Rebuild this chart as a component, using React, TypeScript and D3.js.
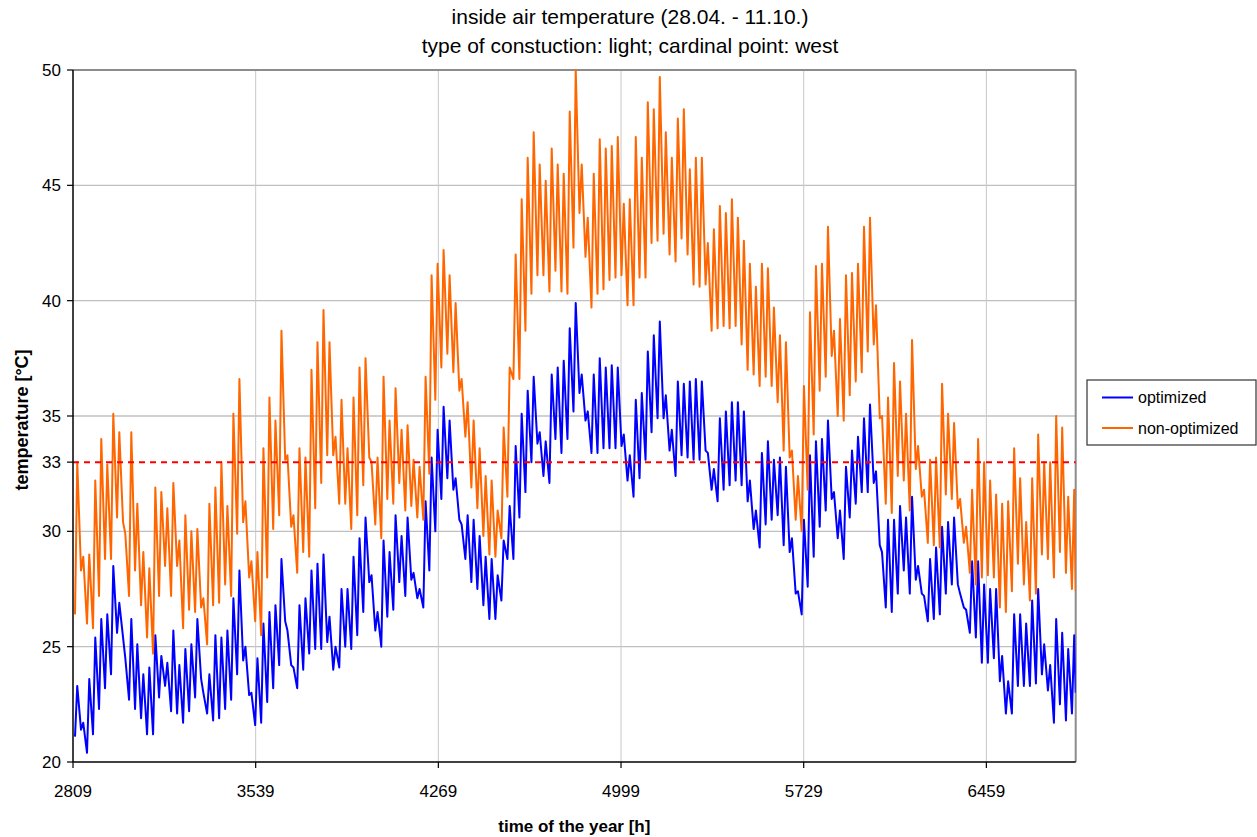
import React from 'react';
import * as d3 from 'd3';

// hours of the year shown on the x axis
const hourStart = 2809;
const hourEnd = 6816;
const xTicks = [2809, 3539, 4269, 4999, 5729, 6459];
const yTicks = [20, 25, 30, 33, 35, 40, 45, 50];
const limitTemp = 33;

// daily cycle: morning low, evening high (west facade)
const firstPeakHour = 2826;
const riseHours = 9;

const seriesNames = ['optimized', 'non-optimized'];

// daily lows / highs, °C (one value per day)
const optimizedLows = [
  21.1, 21.4, 20.4, 21.2, 22.3, 23.2, 23.8, 25.6, 25.4, 22.7,
  22.3, 21.9, 21.2, 21.2, 22.8, 23.3, 22.2, 22.1, 21.7, 22.2,
  22.8, 23.6, 22.1, 21.8, 21.9, 22.3, 22.7, 23.8, 24.4, 22.9,
  21.6, 21.7, 22.6, 23.2, 24.2, 26.1, 24.2, 23.2, 24.0, 24.7,
  24.9, 24.9, 25.2, 24.0, 24.1, 25.0, 24.9, 25.5, 26.5, 27.8,
  25.7, 25.0, 26.3, 26.6, 27.8, 27.2, 27.9, 27.1, 26.7, 28.3,
  30.0, 31.4, 32.3, 31.8, 30.5, 28.8, 27.8, 27.5, 26.8, 26.2,
  26.2, 27.0, 28.8, 28.8, 30.6, 31.7, 33.0, 33.8, 32.4, 32.1,
  34.0, 33.4, 34.0, 35.2, 36.0, 34.8, 33.4, 33.4, 33.6, 33.6,
  33.6, 33.7, 32.2, 31.5, 32.3, 33.1, 34.3, 34.9, 34.9, 33.5,
  32.4, 33.3, 33.2, 33.1, 33.1, 33.5, 31.8, 31.3, 31.8, 32.0,
  32.2, 32.0, 31.3, 30.1, 29.3, 30.3, 30.5, 30.7, 29.4, 29.1,
  27.3, 26.4, 27.6, 28.9, 30.2, 30.9, 31.4, 29.7, 28.8, 30.6,
  31.2, 31.7, 31.7, 32.1, 29.4, 26.7, 26.5, 27.3, 28.3, 27.3,
  27.9, 27.3, 26.1, 26.2, 26.4, 27.3, 27.7, 27.7, 26.7, 25.6,
  25.4, 24.3, 24.3, 24.5, 23.5, 22.1, 22.1, 23.3, 23.3, 23.3,
  23.4, 23.8, 23.1, 21.7, 22.5, 21.8, 22.1, 23.0,
];
const optimizedHighs = [
  23.3, 21.7, 23.6, 25.4, 26.2, 26.4, 28.5, 26.9, 24.5, 26.2,
  25.1, 23.8, 24.1, 25.5, 24.6, 24.3, 25.7, 24.2, 24.9, 25.1,
  26.2, 23.0, 23.8, 25.5, 25.4, 25.7, 27.1, 28.3, 25.0, 23.0,
  24.5, 26.0, 26.5, 26.8, 28.8, 25.7, 24.1, 26.8, 27.1, 28.3,
  28.6, 29.0, 26.3, 25.0, 27.5, 27.5, 28.9, 29.7, 30.6, 28.1,
  26.5, 29.6, 29.1, 30.7, 29.8, 30.6, 28.2, 27.5, 31.3, 33.2,
  34.4, 35.4, 34.8, 32.3, 30.3, 30.7, 30.5, 29.8, 28.9, 28.8,
  28.1, 29.6, 31.1, 33.7, 35.1, 36.1, 36.7, 34.3, 33.9, 36.8,
  37.1, 37.4, 38.8, 39.9, 36.8, 35.2, 36.8, 37.5, 37.1, 37.2,
  37.1, 34.2, 33.3, 35.7, 36.0, 37.8, 38.5, 39.1, 35.9, 34.4,
  36.5, 36.4, 36.5, 36.6, 36.5, 33.4, 32.7, 34.9, 35.2, 35.6,
  35.6, 35.2, 32.2, 30.9, 33.4, 33.9, 33.1, 33.2, 32.8, 29.7,
  27.4, 30.5, 33.3, 33.9, 34.0, 34.8, 31.7, 30.9, 32.8, 33.5,
  34.1, 34.9, 35.5, 32.6, 29.1, 30.5, 30.5, 31.1, 30.6, 31.5,
  28.5, 27.2, 28.8, 29.3, 30.2, 30.4, 30.6, 27.3, 26.6, 28.7,
  28.7, 27.7, 27.5, 27.5, 24.6, 23.5, 26.4, 26.4, 26.0, 27.0,
  27.5, 25.1, 24.2, 26.2, 25.6, 24.9, 25.5,
];
const nonOptimizedLows = [
  26.4, 28.3, 26.0, 25.8, 27.2, 28.8, 28.8, 30.6, 30.4, 27.2,
  28.3, 26.8, 25.4, 24.7, 27.2, 28.5, 27.2, 28.5, 25.8, 26.6,
  26.5, 26.7, 25.1, 26.8, 26.9, 27.7, 27.2, 29.9, 30.4, 28.0,
  26.1, 25.5, 28.0, 30.1, 30.7, 33.1, 30.2, 28.2, 29.1, 28.9,
  31.0, 32.1, 33.3, 33.3, 31.2, 31.2, 30.1, 30.7, 32.0, 33.2,
  30.3, 29.7, 31.4, 31.2, 32.1, 30.9, 31.1, 30.6, 30.5, 32.5,
  35.7, 37.1, 37.7, 36.9, 36.1, 34.1, 31.9, 31.0, 29.8, 29.0,
  28.9, 29.7, 31.5, 36.6, 36.6, 38.7, 40.3, 41.1, 41.1, 40.4,
  41.3, 40.4, 40.3, 42.3, 43.8, 41.9, 39.7, 40.3, 40.5, 40.9,
  41.0, 41.1, 39.8, 39.8, 41.0, 41.0, 42.5, 42.6, 42.9, 42.0,
  41.7, 42.7, 42.0, 40.7, 40.6, 40.7, 38.7, 38.8, 38.9, 38.8,
  38.9, 38.1, 37.0, 36.8, 36.3, 36.7, 36.3, 35.6, 33.5, 33.2,
  30.5, 30.0, 31.8, 34.2, 36.1, 36.7, 37.6, 35.0, 34.8, 35.9,
  36.5, 36.9, 37.8, 38.1, 34.9, 31.2, 30.8, 32.4, 32.2, 30.9,
  32.7, 31.5, 29.5, 29.4, 29.3, 31.6, 31.4, 31.0, 29.5, 28.2,
  27.7, 28.0, 28.1, 28.0, 26.7, 26.5, 27.4, 28.6, 27.7, 27.0,
  27.3, 29.0, 28.8, 28.0, 29.1, 28.2, 27.5, 27.4,
];
const nonOptimizedHighs = [
  33.0, 28.9, 29.0, 32.2, 34.0, 32.9, 35.1, 34.3, 29.9, 34.3,
  31.2, 29.1, 28.4, 31.9, 31.7, 31.0, 32.1, 29.6, 30.7, 30.0,
  30.1, 27.1, 31.2, 31.9, 33.0, 31.1, 35.1, 36.6, 31.3, 28.7,
  29.1, 33.6, 35.8, 34.8, 38.7, 33.3, 30.7, 33.6, 33.2, 37.0,
  38.2, 39.6, 38.2, 34.1, 35.7, 33.6, 35.8, 37.1, 37.5, 33.0,
  33.2, 36.7, 34.8, 36.2, 34.4, 34.6, 33.1, 32.8, 36.7, 41.1,
  41.6, 42.2, 41.1, 39.9, 36.6, 35.6, 34.8, 33.6, 32.4, 32.2,
  30.9, 34.5, 37.1, 42.0, 44.4, 46.2, 47.3, 45.9, 45.2, 46.6,
  45.9, 45.5, 48.2, 50.0, 45.9, 43.6, 45.5, 47.0, 46.6, 46.7,
  47.1, 44.2, 44.4, 47.1, 46.2, 48.6, 48.3, 49.7, 47.3, 46.2,
  47.9, 48.3, 45.7, 46.2, 46.2, 42.5, 43.1, 44.1, 43.8, 44.4,
  43.6, 42.6, 41.6, 40.6, 41.6, 41.4, 39.7, 38.5, 38.2, 33.5,
  32.4, 36.3, 39.5, 41.5, 41.6, 43.2, 38.7, 39.2, 41.1, 41.2,
  41.6, 43.2, 43.6, 39.8, 35.0, 35.8, 37.3, 36.5, 35.1, 38.3,
  33.7, 31.8, 33.1, 33.2, 36.4, 35.1, 34.7, 31.4, 30.2, 31.8,
  34.0, 33.0, 32.2, 31.6, 31.2, 31.3, 33.6, 32.3, 30.4, 32.3,
  34.2, 33.0, 33.0, 35.0, 34.5, 31.5, 31.8,
];

const colors = ['#0000ff', '#ff6600'];
const font = '"Liberation Sans", Arial, sans-serif';

function toPoints(lows: number[], highs: number[]): [number, number][] {
  const pts: [number, number][] = [];
  lows.forEach((low, k) => {
    const peakHour = firstPeakHour + 24 * k;
    const lowHour = Math.min(hourEnd, Math.max(hourStart, peakHour - riseHours));
    pts.push([lowHour, low]);
    if (k < highs.length) pts.push([peakHour, highs[k]]);
  });
  return pts;
}

export default function App() {
  const width = 1257;
  const height = 837;
  const left = 73;
  const right = 1075.7;
  const top = 70;
  const bottom = 762;

  const x = d3.scaleLinear().domain([hourStart, hourEnd]).range([left, right]);
  const y = d3.scaleLinear().domain([20, 50]).range([bottom, top]);

  const line = d3
    .line<[number, number]>()
    .x(d => x(d[0]))
    .y(d => y(d[1]));

  const series = [
    toPoints(optimizedLows, optimizedHighs),
    toPoints(nonOptimizedLows, nonOptimizedHighs),
  ];

  return (
    <div style={{ position: 'absolute', left: 0, top: 0 }}>
      <svg width={width} height={height} style={{ display: 'block', background: '#fff' }} fontFamily={font}>
        <defs>
          <clipPath id="plot-clip">
            <rect x={left} y={top - 1} width={right - left} height={bottom - top + 2} />
          </clipPath>
        </defs>

        {/* grid */}
        {yTicks.filter(t => t !== limitTemp && t !== 20 && t !== 50).map(t => (
          <line key={'gy' + t} x1={left} x2={right} y1={y(t)} y2={y(t)} stroke="#c0c0c0" strokeWidth={1.3} />
        ))}
        {xTicks.filter(t => t !== hourStart).map(t => (
          <line key={'gx' + t} x1={x(t)} x2={x(t)} y1={top} y2={bottom} stroke="#c8c8c8" strokeWidth={1} />
        ))}

        {/* plot frame: grey top/right, black axes */}
        <line x1={left} x2={right} y1={top} y2={top} stroke="#8c8c8c" strokeWidth={2} />
        <line x1={right} x2={right} y1={top} y2={bottom} stroke="#8c8c8c" strokeWidth={2} />

        {/* series */}
        <g clipPath="url(#plot-clip)">
          {series.map((pts, i) => (
            <path key={seriesNames[i]} d={line(pts) ?? ''} fill="none" stroke={colors[i]} strokeWidth={2} strokeLinejoin="round" />
          ))}
        </g>

        {/* 33 °C limit */}
        <line x1={left} x2={right} y1={y(limitTemp)} y2={y(limitTemp)} stroke="#ff0000" strokeWidth={2} strokeDasharray="6,5" />

        <line x1={left} x2={left} y1={top} y2={bottom} stroke="#000" strokeWidth={1.5} />
        <line x1={left} x2={right} y1={bottom} y2={bottom} stroke="#000" strokeWidth={1.5} />

        {/* y axis ticks and labels */}
        {yTicks.map(t => (
          <g key={'yt' + t}>
            <line x1={left - 6} x2={left} y1={y(t)} y2={y(t)} stroke="#000" strokeWidth={1.2} />
            <text x={left - 12} y={y(t)} dy="0.35em" textAnchor="end" fontSize={17} fill="#000">
              {t}
            </text>
          </g>
        ))}

        {/* x axis ticks and labels */}
        {xTicks.map(t => (
          <g key={'xt' + t}>
            <line x1={x(t)} x2={x(t)} y1={bottom} y2={bottom + 6} stroke="#000" strokeWidth={1.2} />
            <text x={x(t)} y={797} textAnchor="middle" fontSize={17} fill="#000">
              {t}
            </text>
          </g>
        ))}

        {/* titles */}
        <text x={630} y={24} textAnchor="middle" fontSize={21} fill="#000">
          inside air temperature (28.04. - 11.10.)
        </text>
        <text x={630} y={53} textAnchor="middle" fontSize={21} fill="#000">
          type of constuction: light; cardinal point: west
        </text>
        <text x={(left + right) / 2} y={832} textAnchor="middle" fontSize={17} fontWeight="bold" fill="#000">
          time of the year [h]
        </text>
        <text
          transform={`translate(28,${(top + bottom) / 2 + 4}) rotate(-90)`}
          textAnchor="middle"
          fontSize={18}
          fontWeight="bold"
          fill="#000"
        >
          temperature [°C]
        </text>

        {/* legend */}
        <rect x={1087} y={380} width={169} height={65} fill="#fff" stroke="#333" strokeWidth={1.2} />
        {seriesNames.map((name, i) => (
          <g key={'lg' + name} transform={`translate(1102,${397.5 + i * 30.5})`}>
            <line x1={0} x2={31} y1={0} y2={0} stroke={colors[i]} strokeWidth={2} />
            <text x={36} y={0} dy="0.35em" fontSize={16} fill="#000">
              {name}
            </text>
          </g>
        ))}
      </svg>
    </div>
  );
}
